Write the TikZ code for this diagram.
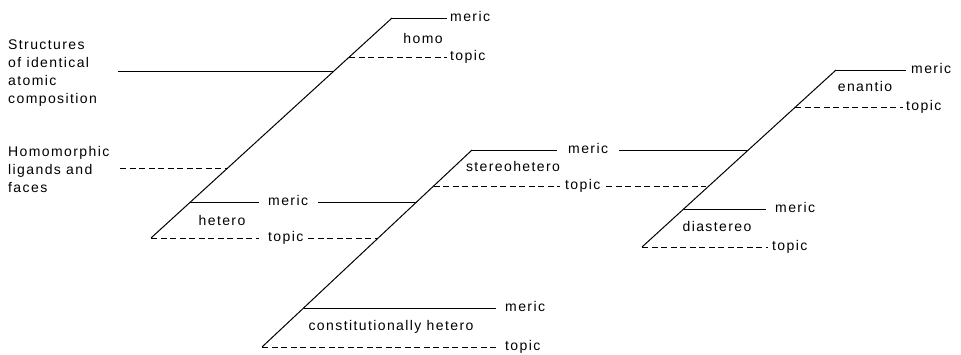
\documentclass[tikz,border=0pt]{standalone}
\usepackage{fontspec}
\setmainfont{Liberation Sans}[LetterSpace=10]
\begin{document}
\begin{tikzpicture}[x=1pt,y=-1pt,
  lbl/.style={font=\fontsize{14}{18}\selectfont, inner sep=0pt, anchor=mid west, yshift=-1pt},
  cat/.style={font=\fontsize{14}{18}\selectfont, inner sep=0pt, anchor=mid, yshift=-1pt},
  blk/.style={font=\fontsize{14}{18}\selectfont, inner sep=0pt, anchor=west, align=left},
  solidln/.style={line width=1pt},
  dashln/.style={line width=1pt, dash pattern=on 6pt off 3.5pt}]
\useasboundingbox (0,0) rectangle (961,354);
% diagonals
\coordinate (A0) at (151,238); \coordinate (A1) at (392,18);
\coordinate (B0) at (262,347); \coordinate (B1) at (472,150);
\coordinate (C0) at (642,247); \coordinate (C1) at (836,70);
\draw[solidln] (A0) -- (A1);
\draw[solidln] (B0) -- (B1);
\draw[solidln] (C0) -- (C1);
% points on diagonals
\coordinate (Ahtop) at (349.3,57);
\coordinate (Astr) at (333.9,71);
\coordinate (Ahom) at (227.7,168);
\coordinate (Ahet) at (190.4,202);
\coordinate (Bsto) at (433.6,186);
\coordinate (Bhm) at (416.6,202);
\coordinate (Bht) at (378.2,238);
\coordinate (Bcm) at (303.6,308);
\coordinate (Cetop) at (795.4,107);
\coordinate (Csm) at (748.3,150);
\coordinate (Cst) at (706,186);
\coordinate (Cdm) at (683.7,209);
% left texts
\node[blk] (struct) at (8,73) {Structures\\of identical\\atomic\\composition};
\node[blk] (homomorph) at (8,169) {Homomorphic\\ligands and\\faces};
\coordinate (structE) at (118,71);
\coordinate (homE) at (120,168);
\draw[solidln] (structE) -- (Astr);
\draw[dashln] (homE) -- (Ahom);
% homo
\node[lbl] (homoM) at (450,18) {meric};
\node[lbl] (homoT) at (450,57) {topic};
\node[cat] (homo) at (423,40) {homo};
\coordinate (homoMe) at (447,18);
\coordinate (homoTe) at (447,57);
\draw[solidln] (A1) -- (homoMe);
\draw[dashln] (Ahtop) -- (homoTe);
% hetero
\node[lbl] (hetM) at (268,202) {meric};
\node[lbl] (hetT) at (268,238) {topic};
\node[cat] (hetero) at (222,222) {hetero};
\coordinate (hetMa) at (259,202); \coordinate (hetMb) at (318,202);
\coordinate (hetTa) at (259,238); \coordinate (hetTb) at (308,238);
\draw[solidln] (Ahet) -- (hetMa);
\draw[solidln] (hetMb) -- (Bhm);
\draw[dashln] (A0) -- (hetTa);
\draw[dashln] (hetTb) -- (Bht);
% stereohetero
\node[lbl] (stM) at (568,150) {meric};
\node[lbl] (stT) at (565,186) {topic};
\node[cat] (stereo) at (513,168) {stereohetero};
\coordinate (stMa) at (557,150); \coordinate (stMb) at (619,150);
\coordinate (stTa) at (560,186); \coordinate (stTb) at (606,186);
\draw[solidln] (B1) -- (stMa);
\draw[solidln] (stMb) -- (Csm);
\draw[dashln] (Bsto) -- (stTa);
\draw[dashln] (stTb) -- (Cst);
% constitutionally hetero
\node[lbl] (coM) at (505,308) {meric};
\node[lbl] (coT) at (505,347) {topic};
\node[cat] (consti) at (391,327) {constitutionally hetero};
\coordinate (coMe) at (496,308); \coordinate (coTe) at (496,347);
\draw[solidln] (Bcm) -- (coMe);
\draw[dashln] (B0) -- (coTe);
% enantio
\node[lbl] (enM) at (911,70) {meric};
\node[lbl] (enT) at (906,107) {topic};
\node[cat] (enantio) at (865,88) {enantio};
\coordinate (enMe) at (906,70); \coordinate (enTe) at (903,107);
\draw[solidln] (C1) -- (enMe);
\draw[dashln] (Cetop) -- (enTe);
% diastereo
\node[lbl] (diM) at (775,209) {meric};
\node[lbl] (diT) at (772,247) {topic};
\node[cat] (diast) at (717,228) {diastereo};
\coordinate (diMe) at (766,209); \coordinate (diTe) at (768,247);
\draw[solidln] (Cdm) -- (diMe);
\draw[dashln] (C0) -- (diTe);
\end{tikzpicture}
\end{document}
